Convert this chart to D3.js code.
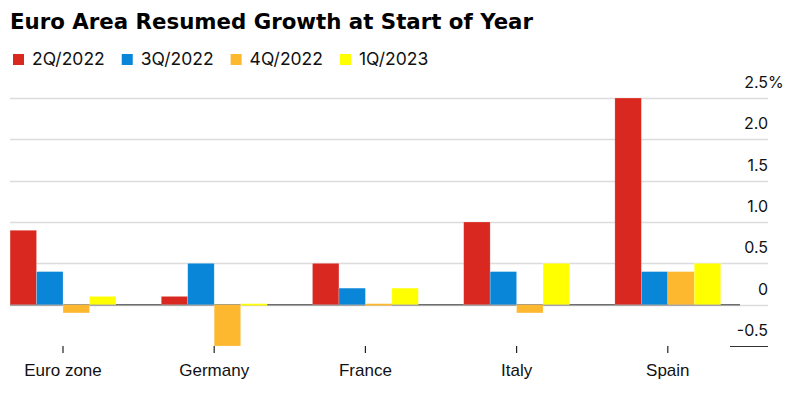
<!DOCTYPE html>
<html>
<head>
<meta charset="utf-8">
<script src="https://cdn.jsdelivr.net/npm/d3@7"></script>
<style>
  body { margin: 0; background: #fff; }
  svg { font-family: Inter, "Liberation Sans", Arial, sans-serif; }
</style>
</head>
<body>
<div class="chart"></div>
<script>
const svgWidth = 791
const svgHeight = 395

// data
const countries = ["Euro zone", "Germany", "France", "Italy", "Spain"]
const quarters = ["2Q/2022", "3Q/2022", "4Q/2022", "1Q/2023"]
const q2_2022 = [0.9, 0.1, 0.5, 1.0, 2.5]
const q3_2022 = [0.4, 0.5, 0.2, 0.4, 0.4]
const q4_2022 = [-0.1, -0.5, 0.0, -0.1, 0.4]
const q1_2023 = [0.1, 0.0, 0.2, 0.5, 0.5]
const yTicks = [-0.5, 0, 0.5, 1.0, 1.5, 2.0, 2.5]
const yTickLabels = ["-0.5", "0", "0.5", "1.0", "1.5", "2.0", "2.5"]
const colors = ["#d8281f", "#0a86d8", "#fdb830", "#ffff00"]

const seriesValues = [q2_2022, q3_2022, q4_2022, q1_2023]

let rows = []
countries.forEach((c, i) => {
	quarters.forEach((q, j) => {
		rows.push({ country: c, quarter: q, value: seriesValues[j][i], color: colors[j] })
	})
})

let svg = d3.select(".chart")
	.append("svg")
	.attr("width", svgWidth)
	.attr("height", svgHeight)

// title
let title = svg.append("text")
	.attr("x", 10)
	.attr("y", 29)
	.attr("font-size", 20.5)
	.attr("font-weight", "bold")
	.attr("font-family", "'DejaVu Sans', sans-serif")
	.attr("fill", "#000")
	.text("Euro Area Resumed Growth at Start of Year")
// stretch/squeeze a little to the reference width
title.attr("textLength", 523).attr("lengthAdjust", "spacingAndGlyphs")

// legend
let legendX = 13
quarters.forEach((q, j) => {
	let g = svg.append("g").attr("transform", `translate(${legendX}, 0)`)
	g.append("rect")
		.attr("x", 0)
		.attr("y", 54)
		.attr("width", 11)
		.attr("height", 11)
		.attr("fill", colors[j])
	let t = g.append("text")
		.attr("x", 19)
		.attr("y", 65)
		.attr("font-size", 17.5)
		.attr("fill", "#111")
		.text(q)
	legendX += 19 + t.node().getComputedTextLength() + 17
})

// scales
let x = d3.scaleBand()
	.domain(countries)
	.range([-12.6, 743.4])

let y = d3.scaleLinear()
	.domain([-0.5, 2.5])
	.range([346, 98])

let plotLeft = 10
let gridRight = 768
let zeroRight = 740

// gridlines
svg.append("g")
	.selectAll("line")
	.data(yTicks.filter(d => d >= 0))
	.enter()
	.append("line")
	.attr("x1", plotLeft)
	.attr("x2", gridRight)
	.attr("y1", d => Math.round(y(d)) + 0.5)
	.attr("y2", d => Math.round(y(d)) + 0.5)
	.attr("stroke", "#dcdcdc")
	.attr("stroke-width", 1.5)

// short line for lowest tick
svg.append("line")
	.attr("x1", 730)
	.attr("x2", gridRight)
	.attr("y1", Math.round(y(-0.5)) + 0.5)
	.attr("y2", Math.round(y(-0.5)) + 0.5)
	.attr("stroke", "#333")
	.attr("stroke-width", 1.2)

// y labels
svg.append("g")
	.selectAll("text")
	.data(yTicks)
	.enter()
	.append("text")
	.attr("x", gridRight)
	.attr("y", d => y(d) - 10)
	.attr("text-anchor", "end")
	.attr("font-size", 16)
	.attr("fill", "#111")
	.text((d, i) => yTickLabels[i])

// percent sign on top label
svg.append("text")
	.attr("x", gridRight)
	.attr("y", y(2.5) - 10)
	.attr("font-size", 16)
	.attr("fill", "#111")
	.text("%")

// zero baseline (under the bars so zero values show their colour)
svg.append("line")
	.attr("x1", plotLeft)
	.attr("x2", zeroRight)
	.attr("y1", y(0))
	.attr("y2", y(0))
	.attr("stroke", "#6e6e6e")
	.attr("stroke-width", 1.5)

// bars
let sub = d3.scaleBand()
	.domain(quarters)
	.range([0, x.bandwidth() * 0.7])

svg.append("g")
	.selectAll("rect")
	.data(rows)
	.enter()
	.append("rect")
	.attr("x", d => x(d.country) + x.bandwidth() * 0.15 + sub(d.quarter))
	.attr("width", sub.bandwidth())
	.attr("y", d => d.value === 0 ? y(0) - 1 : Math.min(y(d.value), y(0)))
	.attr("height", d => d.value === 0 ? 2 : Math.abs(y(d.value) - y(0)))
	.attr("fill", d => d.color)
	.attr("stroke", "#fff")
	.attr("stroke-opacity", 0.35)
	.attr("stroke-width", 0.6)

// x axis ticks + labels
let xAxis = svg.append("g")
	.attr("transform", "translate(0, 346)")
	.call(d3.axisBottom(x).tickSize(7).tickPadding(11))

xAxis.select(".domain").remove()
xAxis.selectAll(".tick line").attr("stroke", "#222").attr("stroke-width", 1.2)
xAxis.selectAll(".tick text")
	.attr("font-size", 17)
	.attr("font-family", "'Liberation Sans Narrow', 'Liberation Sans', Arial, sans-serif")
	.attr("fill", "#111")
</script>
</body>
</html>
